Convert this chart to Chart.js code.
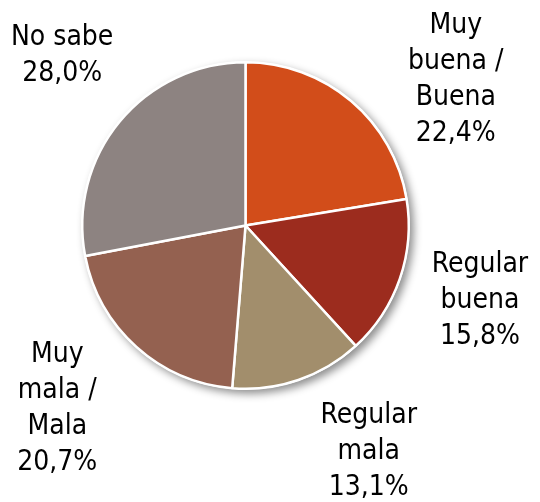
<!DOCTYPE html>
<html>
<head>
<meta charset="utf-8">
<script src="https://cdn.jsdelivr.net/npm/chart.js@4"></script>
<style>
html,body{margin:0;padding:0;background:#fff;}
canvas{display:block;}
</style>
</head>
<body>
<canvas id="c" width="540" height="502"></canvas>
<script>
const categories = ["Muy buena / Buena", "Regular buena", "Regular mala", "Muy mala / Mala", "No sabe"];
const labelLines = [["Muy", "buena /", "Buena"], ["Regular", "buena"], ["Regular", "mala"], ["Muy", "mala /", "Mala"], ["No sabe"]];
const values = [22.4, 15.8, 13.1, 20.7, 28.0];
const colors = ["#D24D1A", "#9C2C1E", "#A28E6C", "#946150", "#8D8381"];

// label block centres, in units of the pie radius from the pie centre
const labelPlacement = [[1.288, -0.890], [1.436, 0.460], [0.755, 1.387], [-1.153, 1.123], [-1.123, -1.043]];

function fmt(v){ return v.toFixed(1).replace('.', ',') + '%'; }

const shadowPlugin = {
  id: 'pieShadow',
  beforeDatasetsDraw(chart){
    const arc = chart.getDatasetMeta(0).data[0];
    if(!arc) return;
    const {x, y, outerRadius} = arc.getProps(['x','y','outerRadius'], true);
    const ctx = chart.ctx;
    ctx.save();
    ctx.shadowColor = 'rgba(0,0,0,0.45)';
    ctx.shadowBlur = 8;
    ctx.shadowOffsetX = 4;
    ctx.shadowOffsetY = 4;
    ctx.fillStyle = '#ffffff';
    ctx.beginPath();
    ctx.arc(x, y, outerRadius + 1, 0, Math.PI * 2);
    ctx.fill();
    ctx.restore();
  }
};

const labelPlugin = {
  id: 'outerLabels',
  afterDatasetsDraw(chart){
    const meta = chart.getDatasetMeta(0);
    const ctx = chart.ctx;
    ctx.save();
    ctx.font = '28px "DejaVu Sans Condensed", "DejaVu Sans", sans-serif';
    ctx.fillStyle = '#000000';
    ctx.textAlign = 'center';
    ctx.textBaseline = 'middle';
    const lh = 36;
    meta.data.forEach((arc, i) => {
      const {x, y, outerRadius} = arc.getProps(['x','y','outerRadius'], true);
      const lines = labelLines[i].concat([fmt(values[i])]);
      const cx = x + labelPlacement[i][0] * outerRadius;
      const cy = y + labelPlacement[i][1] * outerRadius;
      const top = cy - (lines.length - 1) * lh / 2;
      lines.forEach((t, k) => ctx.fillText(t, cx, top + k * lh));
    });
    ctx.restore();
  }
};

new Chart(document.getElementById('c'), {
  type: 'pie',
  data: {
    labels: categories,
    datasets: [{
      data: values,
      backgroundColor: colors,
      borderColor: '#ffffff',
      borderWidth: 2.5,
      hoverOffset: 0
    }]
  },
  options: {
    responsive: false,
    animation: false,
    events: [],
    layout: { padding: { left: 81, right: 130, top: 61, bottom: 112 } },
    plugins: { legend: { display: false }, tooltip: { enabled: false } }
  },
  plugins: [shadowPlugin, labelPlugin]
});
</script>
</body>
</html>
